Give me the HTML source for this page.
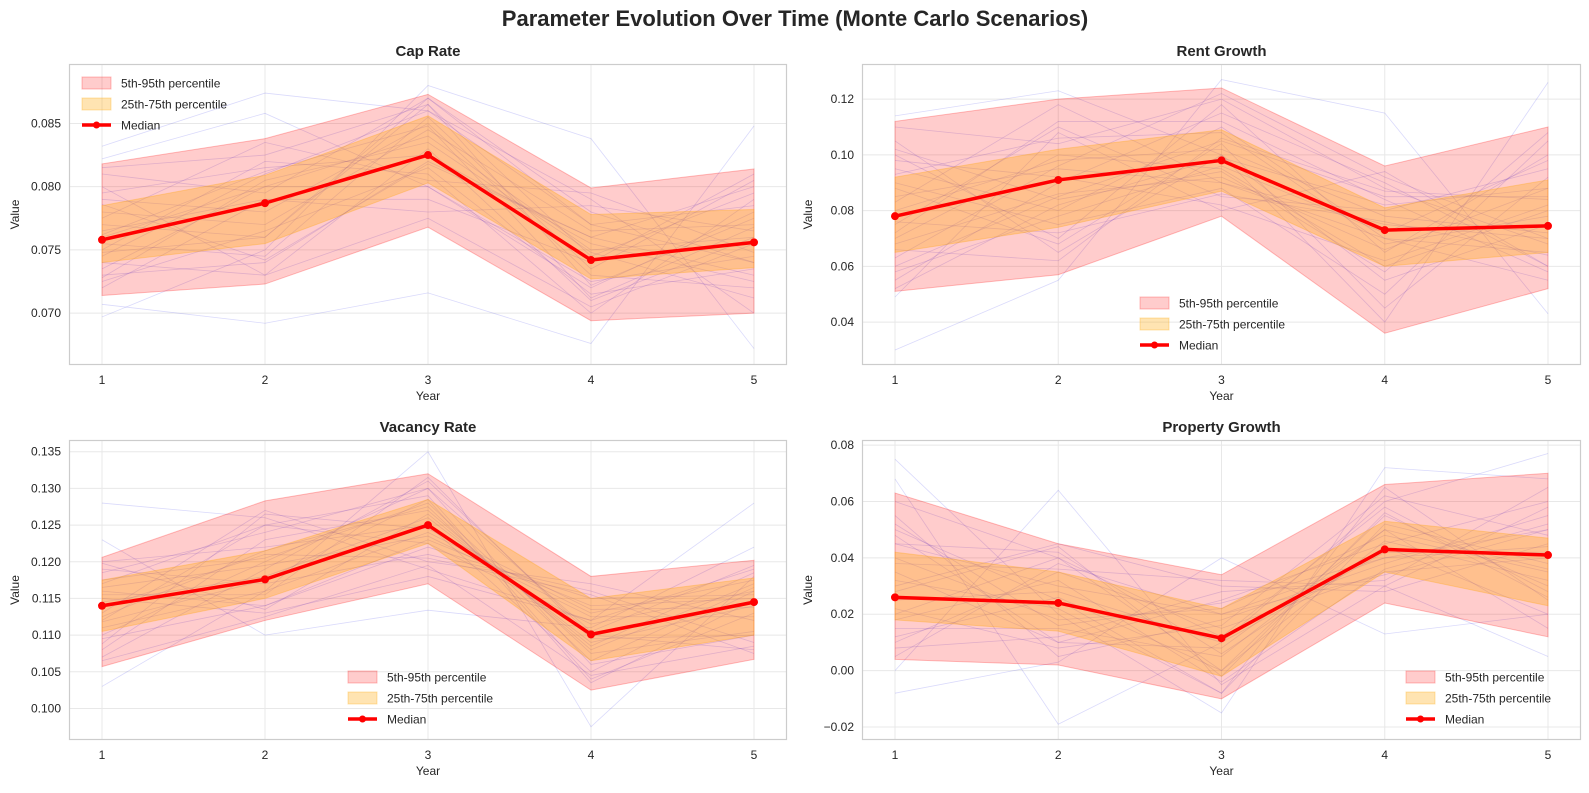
<!DOCTYPE html>
<html><head><meta charset="utf-8"><style>
body{margin:0;background:#fff;font-family:"Liberation Sans",Arial,sans-serif}
svg text{font-family:"Liberation Sans",Arial,sans-serif;fill:#262626}
</style></head><body>
<svg id="fig" width="1589" height="788" viewBox="0 0 1589 788">
<text x="795" y="26" text-anchor="middle" font-size="22" font-weight="bold">Parameter Evolution Over Time (Monte Carlo Scenarios)</text>
</svg>
<script>
const years=[1,2,3,4,5];
const capMedian=[0.0758,0.0787,0.0825,0.0742,0.0756];
const capP5=[0.0714,0.0723,0.0768,0.0694,0.0700];
const capP95=[0.0818,0.0838,0.0873,0.0799,0.0814];
const capP25=[0.0740,0.0755,0.0803,0.0727,0.0736];
const capP75=[0.0785,0.0809,0.0856,0.0778,0.0782];
const capTicks=[0.070,0.075,0.080,0.085];
const capScen=[[0.0832,0.0874,0.0860,0.0770,0.0740],[0.0697,0.0750,0.0880,0.0838,0.0672],[0.0707,0.0692,0.0716,0.0676,0.0848],[0.0822,0.0858,0.0800,0.0720,0.0780],[0.0760,0.0800,0.0840,0.0750,0.0760],[0.0730,0.0740,0.0820,0.0760,0.0800],[0.0790,0.0780,0.0850,0.0730,0.0720],[0.0750,0.0820,0.0810,0.0700,0.0790],[0.0770,0.0760,0.0870,0.0780,0.0740],[0.0720,0.0790,0.0790,0.0740,0.0810],[0.0800,0.0730,0.0830,0.0710,0.0760],[0.0745,0.0810,0.0860,0.0790,0.0700],
[0.0780,0.0770,0.0845,0.0765,0.0770],[0.0735,0.0800,0.0800,0.0725,0.0745],[0.0815,0.0825,0.0865,0.0745,0.0795],[0.0725,0.0765,0.0815,0.0715,0.0735],[0.0765,0.0790,0.0780,0.0785,0.0765],[0.0755,0.0745,0.0855,0.0735,0.0805],[0.0795,0.0815,0.0825,0.0755,0.0725],[0.0740,0.0730,0.0775,0.0705,0.0755],[0.0810,0.0795,0.0870,0.0770,0.0785],[0.0728,0.0805,0.0835,0.0748,0.0712],[0.0775,0.0835,0.0805,0.0795,0.0748],[0.0748,0.0760,0.0865,0.0722,0.0775],[0.0786,0.0742,0.0818,0.0760,0.0730],[0.0762,0.0812,0.0848,0.0712,0.0768]];
const rentMedian=[0.078,0.091,0.098,0.073,0.0745];
const rentP5=[0.051,0.057,0.078,0.036,0.052];
const rentP95=[0.112,0.120,0.124,0.096,0.110];
const rentP25=[0.065,0.074,0.087,0.060,0.065];
const rentP75=[0.092,0.102,0.109,0.081,0.091];
const rentTicks=[0.04,0.06,0.08,0.10,0.12];
const rentScen=[[0.030,0.055,0.127,0.115,0.043],[0.114,0.123,0.100,0.040,0.126],[0.049,0.108,0.080,0.094,0.060],[0.100,0.070,0.118,0.065,0.100],[0.085,0.095,0.090,0.075,0.070],[0.060,0.085,0.105,0.085,0.085],[0.070,0.100,0.095,0.060,0.080],[0.095,0.080,0.110,0.070,0.065],[0.075,0.110,0.085,0.080,0.095],[0.105,0.065,0.100,0.055,0.075],[0.055,0.090,0.115,0.090,0.060],[0.090,0.075,0.088,0.050,0.105],
[0.080,0.098,0.102,0.078,0.072],[0.068,0.086,0.092,0.066,0.088],[0.110,0.104,0.120,0.088,0.068],[0.058,0.078,0.096,0.072,0.098],[0.098,0.092,0.082,0.062,0.082],[0.072,0.112,0.112,0.084,0.058],[0.088,0.068,0.104,0.045,0.092],[0.063,0.096,0.122,0.092,0.070],[0.102,0.084,0.094,0.058,0.108],[0.076,0.072,0.086,0.076,0.064],[0.093,0.106,0.108,0.068,0.078],[0.052,0.082,0.099,0.082,0.088],[0.083,0.118,0.090,0.070,0.055],[0.066,0.062,0.106,0.087,0.084]];
const vacMedian=[0.1140,0.1176,0.1250,0.1101,0.1145];
const vacP5=[0.1057,0.1120,0.1170,0.1025,0.1067];
const vacP95=[0.1206,0.1283,0.1320,0.1180,0.1202];
const vacP25=[0.1105,0.1150,0.1225,0.1065,0.1100];
const vacP75=[0.1175,0.1215,0.1285,0.1150,0.1178];
const vacTicks=[0.100,0.105,0.110,0.115,0.120,0.125,0.130,0.135];
const vacScen=[[0.1280,0.1260,0.1190,0.1120,0.1280],[0.1030,0.1160,0.1350,0.0975,0.1180],[0.1230,0.1100,0.1134,0.1110,0.1220],[0.1100,0.1200,0.1300,0.1060,0.1100],[0.1160,0.1140,0.1230,0.1140,0.1150],[0.1080,0.1230,0.1270,0.1080,0.1170],[0.1190,0.1170,0.1210,0.1160,0.1090],[0.1120,0.1250,0.1290,0.1040,0.1130],[0.1150,0.1130,0.1180,0.1120,0.1190],[0.1070,0.1190,0.1310,0.1100,0.1080],[0.1200,0.1220,0.1250,0.1050,0.1160],[0.1130,0.1270,0.1200,0.1170,0.1120],
[0.1145,0.1180,0.1260,0.1090,0.1140],[0.1110,0.1160,0.1240,0.1130,0.1175],[0.1175,0.1205,0.1280,0.1075,0.1105],[0.1095,0.1140,0.1220,0.1150,0.1155],[0.1185,0.1240,0.1300,0.1105,0.1195],[0.1065,0.1125,0.1195,0.1045,0.1085],[0.1165,0.1195,0.1235,0.1125,0.1125],[0.1125,0.1215,0.1275,0.1065,0.1165],[0.1155,0.1155,0.1315,0.1095,0.1100],[0.1088,0.1265,0.1245,0.1135,0.1138],[0.1198,0.1135,0.1265,0.1085,0.1185],[0.1138,0.1210,0.1205,0.1155,0.1075],[0.1118,0.1175,0.1285,0.1035,0.1148],[0.1170,0.1250,0.1225,0.1115,0.1160]];
const propMedian=[0.026,0.024,0.0115,0.043,0.041];
const propP5=[0.004,0.002,-0.010,0.024,0.012];
const propP95=[0.063,0.045,0.034,0.066,0.070];
const propP25=[0.018,0.014,-0.002,0.035,0.023];
const propP75=[0.042,0.035,0.022,0.053,0.047];
const propTicks=[-0.02,0.00,0.02,0.04,0.06,0.08];
const propScen=[[0.075,0.020,-0.015,0.072,0.068],[-0.008,0.003,0.040,0.013,0.020],[0.068,-0.019,0.010,0.060,0.077],[0.000,0.064,-0.005,0.030,0.005],[0.045,0.030,0.020,0.040,0.050],[0.020,0.040,0.000,0.055,0.030],[0.035,0.010,0.025,0.045,0.060],[0.010,0.035,0.015,0.035,0.040],[0.050,0.025,-0.008,0.065,0.025],[0.030,0.045,0.030,0.028,0.045],[0.015,0.015,0.005,0.050,0.015],[0.055,0.005,0.018,0.038,0.055],
[0.025,0.028,0.010,0.042,0.042],[0.040,0.018,0.022,0.048,0.035],[0.018,0.032,-0.004,0.036,0.052],[0.060,0.040,0.012,0.058,0.028],[0.008,0.012,0.028,0.032,0.065],[0.032,0.022,-0.008,0.052,0.038],[0.045,0.042,0.006,0.044,0.020],[0.022,0.008,0.016,0.062,0.048],[0.038,0.036,0.032,0.030,0.058],[0.012,0.026,0.000,0.046,0.032],[0.052,0.016,0.024,0.040,0.044],[0.028,0.044,-0.002,0.056,0.026],[0.005,0.038,0.020,0.034,0.050],[0.048,0.010,0.008,0.050,0.036]];

const NS='http://www.w3.org/2000/svg';
const svg=document.getElementById('fig');
function mk(tag,attrs,parent){const e=document.createElementNS(NS,tag);for(const k in attrs)e.setAttribute(k,attrs[k]);(parent||svg).appendChild(e);return e;}

const panels=[
 {key:'cap-rate',title:'Cap Rate',x0:69,x1:787,y0:64,y1:365,ymin:0.0659,ymax:0.0897,dec:3,med:capMedian,p5:capP5,p95:capP95,p25:capP25,p75:capP75,ticks:capTicks,scen:capScen,leg:{x:82,y:83}},
 {key:'rent-growth',title:'Rent Growth',x0:862,x1:1581,y0:64,y1:365,ymin:0.0246,ymax:0.1326,dec:2,med:rentMedian,p5:rentP5,p95:rentP95,p25:rentP25,p75:rentP75,ticks:rentTicks,scen:rentScen,leg:{x:1140,y:303}},
 {key:'vacancy-rate',title:'Vacancy Rate',x0:69,x1:787,y0:440,y1:740,ymin:0.0957,ymax:0.1366,dec:3,med:vacMedian,p5:vacP5,p95:vacP95,p25:vacP25,p75:vacP75,ticks:vacTicks,scen:vacScen,leg:{x:348,y:677}},
 {key:'property-growth',title:'Property Growth',x0:862,x1:1581,y0:440,y1:740,ymin:-0.0246,ymax:0.0818,dec:2,med:propMedian,p5:propP5,p95:propP95,p25:propP25,p75:propP75,ticks:propTicks,scen:propScen,leg:{x:1406,y:677}}
];

panels.forEach(p=>{
 const g=mk('g',{});
 
 
 const xs=v=>p.x0+33+(v-1)*(p.x1-p.x0-66)/4;
 const ys=v=>p.y1-(v-p.ymin)/(p.ymax-p.ymin)*(p.y1-p.y0);
 mk('rect',{x:p.x0,y:p.y0,width:p.x1-p.x0,height:p.y1-p.y0,fill:'#fff'},g);
 p.ticks.forEach(t=>{
  const y=ys(t);
  const l=mk('line',{x1:p.x0,x2:p.x1,y1:y,y2:y,stroke:'#e8e8e8','stroke-width':1},g);
  
  
  const tx=mk('text',{x:p.x0-8,y:y+4,'text-anchor':'end','font-size':12},g);
  tx.textContent=(t<0?'\u2212':'')+Math.abs(t).toFixed(p.dec);
  
  
 });
 years.forEach(yr=>{
  const x=xs(yr);
  mk('line',{x1:x,x2:x,y1:p.y0,y2:p.y1,stroke:'#e8e8e8','stroke-width':1},g);
  const tx=mk('text',{x:x,y:p.y1+19,'text-anchor':'middle','font-size':12},g);
  tx.textContent=yr;
  
  
 });
 p.scen.forEach(s=>{
  const pl=mk('polyline',{points:s.map((v,i)=>xs(years[i])+','+ys(v)).join(' '),fill:'none',stroke:'rgba(70,70,235,0.2)','stroke-width':0.8},g);
  
  
 });
 const band=(lo,hi,fill,stroke,name)=>{
  const pts=lo.map((v,i)=>xs(years[i])+','+ys(v)).concat(hi.map((v,i)=>xs(years[i])+','+ys(v)).reverse());
  const pg=mk('polygon',{points:pts.join(' '),fill:fill,stroke:stroke,'stroke-width':1},g);
  
  
 };
 band(p.p5,p.p95,'rgba(255,0,0,0.2)','rgba(255,0,0,0.25)','band-5-95');
 band(p.p25,p.p75,'rgba(255,165,0,0.3)','rgba(255,165,0,0.3)','band-25-75');
 const ml=mk('polyline',{points:p.med.map((v,i)=>xs(years[i])+','+ys(v)).join(' '),fill:'none',stroke:'#ff0000','stroke-width':3.5,'stroke-linejoin':'round'},g);
 
 
 p.med.forEach((v,i)=>{
  const c=mk('circle',{cx:xs(years[i]),cy:ys(v),r:4,fill:'#ff0000'},g);
  
  
 });
 mk('rect',{x:p.x0+0.5,y:p.y0+0.5,width:p.x1-p.x0-1,height:p.y1-p.y0-1,fill:'none',stroke:'#cccccc','stroke-width':1.2},g);
 const tt=mk('text',{x:(p.x0+p.x1)/2,y:p.y0-8,'text-anchor':'middle','font-size':15,'font-weight':'bold'},g);
 tt.textContent=p.title;
 
 
 const xl=mk('text',{x:(p.x0+p.x1)/2,y:p.y1+35,'text-anchor':'middle','font-size':12},g);
 xl.textContent='Year';
 
 
 const yl=mk('text',{x:0,y:0,'text-anchor':'middle','font-size':12,transform:'translate('+(p.x0-50)+','+((p.y0+p.y1)/2)+') rotate(-90)'},g);
 yl.textContent='Value';
 
 
 const lg=mk('g',{},g);
 
 
 const L=p.leg;
 mk('rect',{x:L.x,y:L.y-6,width:29,height:12,fill:'rgba(255,0,0,0.2)',stroke:'rgba(255,0,0,0.25)'},lg);
 mk('rect',{x:L.x,y:L.y+15,width:29,height:12,fill:'rgba(255,165,0,0.3)',stroke:'rgba(255,165,0,0.3)'},lg);
 mk('line',{x1:L.x,x2:L.x+29,y1:L.y+42,y2:L.y+42,stroke:'#ff0000','stroke-width':3.5},lg);
 mk('circle',{cx:L.x+14.5,cy:L.y+42,r:3.5,fill:'#ff0000'},lg);
 ['5th-95th percentile','25th-75th percentile','Median'].forEach((s,i)=>{
  const t=mk('text',{x:L.x+39,y:L.y+4.5+i*21,'font-size':12},lg);
  t.textContent=s;
  
  
 });
});
</script>
</body></html>
